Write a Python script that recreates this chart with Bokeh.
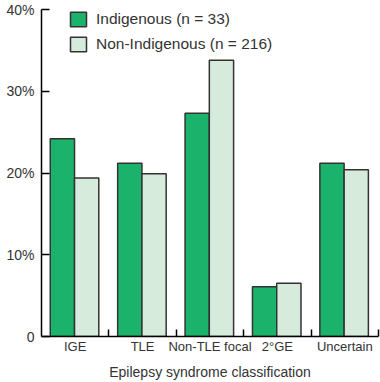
from bokeh.plotting import figure
from bokeh.models import ColumnDataSource, FixedTicker, Legend, LegendItem, Range1d
from bokeh.embed import file_html
from bokeh.resources import INLINE

categories = ["IGE", "TLE", "Non-TLE focal", "2\u00b0GE", "Uncertain"]
indigenous = [24.2, 21.2, 27.3, 6.1, 21.2]
non_indigenous = [19.4, 19.9, 33.8, 6.5, 20.4]
series_labels = ["Indigenous (n = 33)", "Non-Indigenous (n = 216)"]
x_title = "Epilepsy syndrome classification"
y_ticks = [0, 10, 20, 30, 40]
y_tick_labels = ["0", "10%", "20%", "30%", "40%"]

DARK = "#1bb36b"
LIGHT = "#d6ebdc"
EDGE = "#333333"
TXT = "#333333"
FONT = "Liberation Sans"

n = len(categories)
centers = [i + 0.5 for i in range(n)]
src = ColumnDataSource(dict(
    xi=[c - 0.19 for c in centers],
    xn=[c + 0.17 for c in centers],
    ind=indigenous,
    non=non_indigenous,
))

p = figure(width=380, height=382, output_backend="svg", toolbar_location=None,
           x_range=Range1d(0, n), y_range=Range1d(0, 40),
           min_border_left=41, min_border_right=2, min_border_top=9, min_border_bottom=0)
p.outline_line_color = None
p.grid.grid_line_color = None
p.background_fill_color = "white"
p.border_fill_color = "white"

r1 = p.vbar(x="xi", top="ind", width=0.36, source=src, fill_color=DARK,
            line_color=EDGE, line_width=1.5)
r2 = p.vbar(x="xn", top="non", width=0.36, source=src, fill_color=LIGHT,
            line_color=EDGE, line_width=1.5)

# y axis
ya = p.yaxis[0]
ya.ticker = FixedTicker(ticks=y_ticks, minor_ticks=[])
ya.major_label_overrides = {t: l for t, l in zip(y_ticks, y_tick_labels)}
ya.major_tick_in = 8
ya.major_tick_out = 0
ya.minor_tick_line_color = None
ya.axis_line_color = "black"
ya.axis_line_width = 1.5
ya.major_tick_line_color = "black"
ya.major_tick_line_width = 1.5
ya.major_label_text_font = FONT
ya.major_label_text_font_size = "14px"
ya.major_label_text_color = TXT
ya.major_label_standoff = 7

# x axis
xa = p.xaxis[0]
xa.ticker = FixedTicker(ticks=centers, minor_ticks=[float(i) for i in range(1, n + 1)])
xa.major_label_overrides = {c: l for c, l in zip(centers, categories)}
xa.major_tick_in = 0
xa.major_tick_out = 0
xa.minor_tick_in = 7
xa.minor_tick_out = 0
xa.minor_tick_line_color = "black"
xa.minor_tick_line_width = 1.5
xa.axis_line_color = "black"
xa.axis_line_width = 1.5
xa.major_label_text_font = FONT
xa.major_label_text_font_size = "13px"
xa.major_label_text_color = TXT
xa.major_label_standoff = 2
xa.axis_label = x_title
xa.axis_label_text_font = FONT
xa.axis_label_text_font_size = "14px"
xa.axis_label_text_font_style = "normal"
xa.axis_label_text_color = TXT
xa.axis_label_standoff = 7

legend = Legend(items=[LegendItem(label=series_labels[0], renderers=[r1]),
                       LegendItem(label=series_labels[1], renderers=[r2])],
                location=(27, 283), padding=0, margin=0, spacing=7,
                glyph_width=20, glyph_height=18, label_height=18,
                label_standoff=8, border_line_color=None, background_fill_alpha=0,
                label_text_font=FONT, label_text_font_size="15.5px",
                label_text_color=TXT)
p.add_layout(legend)

open("out.html", "w").write(file_html(p, INLINE))
